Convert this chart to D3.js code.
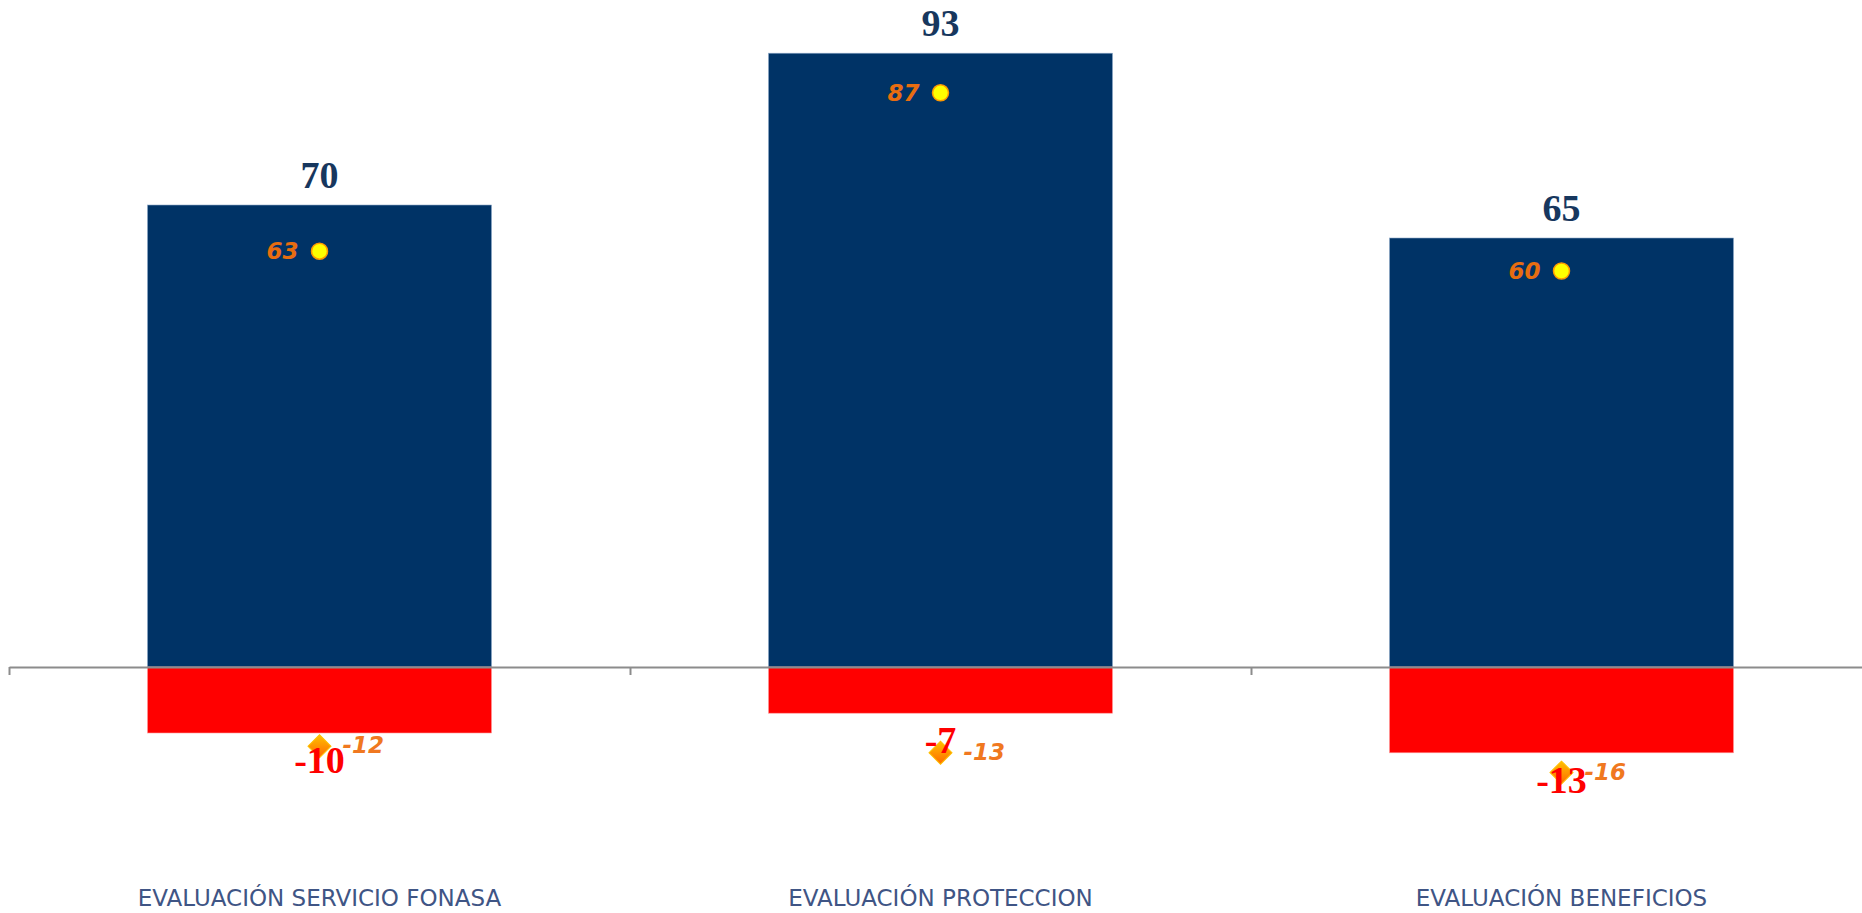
<!DOCTYPE html>
<html>
<head>
<meta charset="utf-8">
<script src="https://cdn.jsdelivr.net/npm/d3@7"></script>
<style>
  html, body { margin: 0; padding: 0; background: #fff; }
  svg { display: block; }
</style>
</head>
<body>
<svg id="chart" width="1862" height="913"></svg>
<script>
const categories = ["EVALUACIÓN SERVICIO FONASA", "EVALUACIÓN PROTECCION", "EVALUACIÓN BENEFICIOS"];
const positiveValues = [70, 93, 65];
const negativeValues = [-10, -7, -13];
const positivePrev = [63, 87, 60];
const negativePrev = [-12, -13, -16];

const svg = d3.select("#chart");

const x = d3.scaleBand().domain(categories).range([9, 1872]).paddingInner(0).paddingOuter(0);
const y = d3.scaleLinear().domain([-20, 100]).range([799, 7]);
const barW = x.bandwidth() * 0.554;
const cx = d => x(d) + x.bandwidth() / 2;

const defs = svg.append("defs");
const grad = defs.append("linearGradient").attr("id", "dg").attr("x1", "0").attr("y1", "0").attr("x2", "1").attr("y2", "1");
grad.append("stop").attr("offset", "0%").attr("stop-color", "#FFC000");
grad.append("stop").attr("offset", "100%").attr("stop-color", "#FF6A00");

// positive bars
svg.append("g").selectAll("rect").data(categories).join("rect")
  .attr("x", d => cx(d) - barW / 2)
  .attr("y", (d, i) => y(positiveValues[i]))
  .attr("width", barW)
  .attr("height", (d, i) => y(0) - y(positiveValues[i]))
  .attr("fill", "#003366")
  .attr("stroke", "#8EA9C8").attr("stroke-width", 0.6);

// negative bars
svg.append("g").selectAll("rect").data(categories).join("rect")
  .attr("x", d => cx(d) - barW / 2)
  .attr("y", y(0))
  .attr("width", barW)
  .attr("height", (d, i) => y(negativeValues[i]) - y(0))
  .attr("fill", "#FF0000")
  .attr("stroke", "#FF9A9A").attr("stroke-width", 0.6);

// axis
const axisScale = d3.scaleLinear().domain([0, 3]).range([9, 1872]);
const axisG = svg.append("g").attr("transform", `translate(0,${y(0)})`)
  .call(d3.axisBottom(axisScale).tickValues([0, 1, 2, 3]).tickFormat("").tickSize(8).tickSizeOuter(0));
axisG.select(".domain").attr("stroke", "#8C8C8C").attr("stroke-width", 2);
axisG.selectAll(".tick line").attr("stroke", "#8C8C8C").attr("stroke-width", 2);

// positive bar labels
svg.append("g").selectAll("text").data(categories).join("text")
  .attr("x", d => cx(d))
  .attr("y", (d, i) => y(positiveValues[i]) - 17)
  .attr("text-anchor", "middle")
  .attr("font-family", "'Liberation Serif', serif")
  .attr("font-weight", "bold")
  .attr("font-size", 38)
  .attr("fill", "#17375E")
  .text((d, i) => positiveValues[i]);

// yellow dots (previous positive)
svg.append("g").selectAll("circle").data(categories).join("circle")
  .attr("cx", d => cx(d))
  .attr("cy", (d, i) => y(positivePrev[i]))
  .attr("r", 8)
  .attr("fill", "#FFFF00")
  .attr("stroke", "#FF9900").attr("stroke-width", 1.5);

svg.append("g").selectAll("text").data(categories).join("text")
  .attr("x", d => cx(d) - 21)
  .attr("y", (d, i) => y(positivePrev[i]))
  .attr("dy", "0.36em")
  .attr("text-anchor", "end")
  .attr("font-family", "'DejaVu Sans', sans-serif")
  .attr("font-weight", "bold")
  .attr("font-style", "italic")
  .attr("font-size", 23)
  .attr("fill", "#E86D10")
  .text((d, i) => positivePrev[i]);

// diamonds (previous negative)
const diamond = d3.symbol().type(d3.symbolSquare).size(265);
svg.append("g").selectAll("path").data(categories).join("path")
  .attr("d", diamond)
  .attr("transform", (d, i) => `translate(${cx(d)},${y(negativePrev[i])}) rotate(45)`)
  .attr("fill", "url(#dg)")
  .attr("stroke", "#FFC000").attr("stroke-width", 1);

svg.append("g").selectAll("text").data(categories).join("text")
  .attr("x", d => cx(d) + 23)
  .attr("y", (d, i) => y(negativePrev[i]))
  .attr("dy", "0.3em")
  .attr("text-anchor", "start")
  .attr("font-family", "'DejaVu Sans', sans-serif")
  .attr("font-weight", "bold")
  .attr("font-style", "italic")
  .attr("font-size", 23)
  .attr("fill", "#F07820")
  .text((d, i) => negativePrev[i]);

// negative bar labels
svg.append("g").selectAll("text").data(categories).join("text")
  .attr("x", d => cx(d))
  .attr("y", (d, i) => y(negativeValues[i]) + 40)
  .attr("text-anchor", "middle")
  .attr("font-family", "'Liberation Serif', serif")
  .attr("font-weight", "bold")
  .attr("font-size", 38)
  .attr("fill", "#FF0000")
  .text((d, i) => negativeValues[i]);

// category labels
svg.append("g").selectAll("text").data(categories).join("text")
  .attr("x", d => cx(d))
  .attr("y", 906)
  .attr("text-anchor", "middle")
  .attr("font-family", "'DejaVu Sans', sans-serif")
  .attr("font-size", 23)
  .attr("fill", "#3F5585")
  .text(d => d);
</script>
</body>
</html>
